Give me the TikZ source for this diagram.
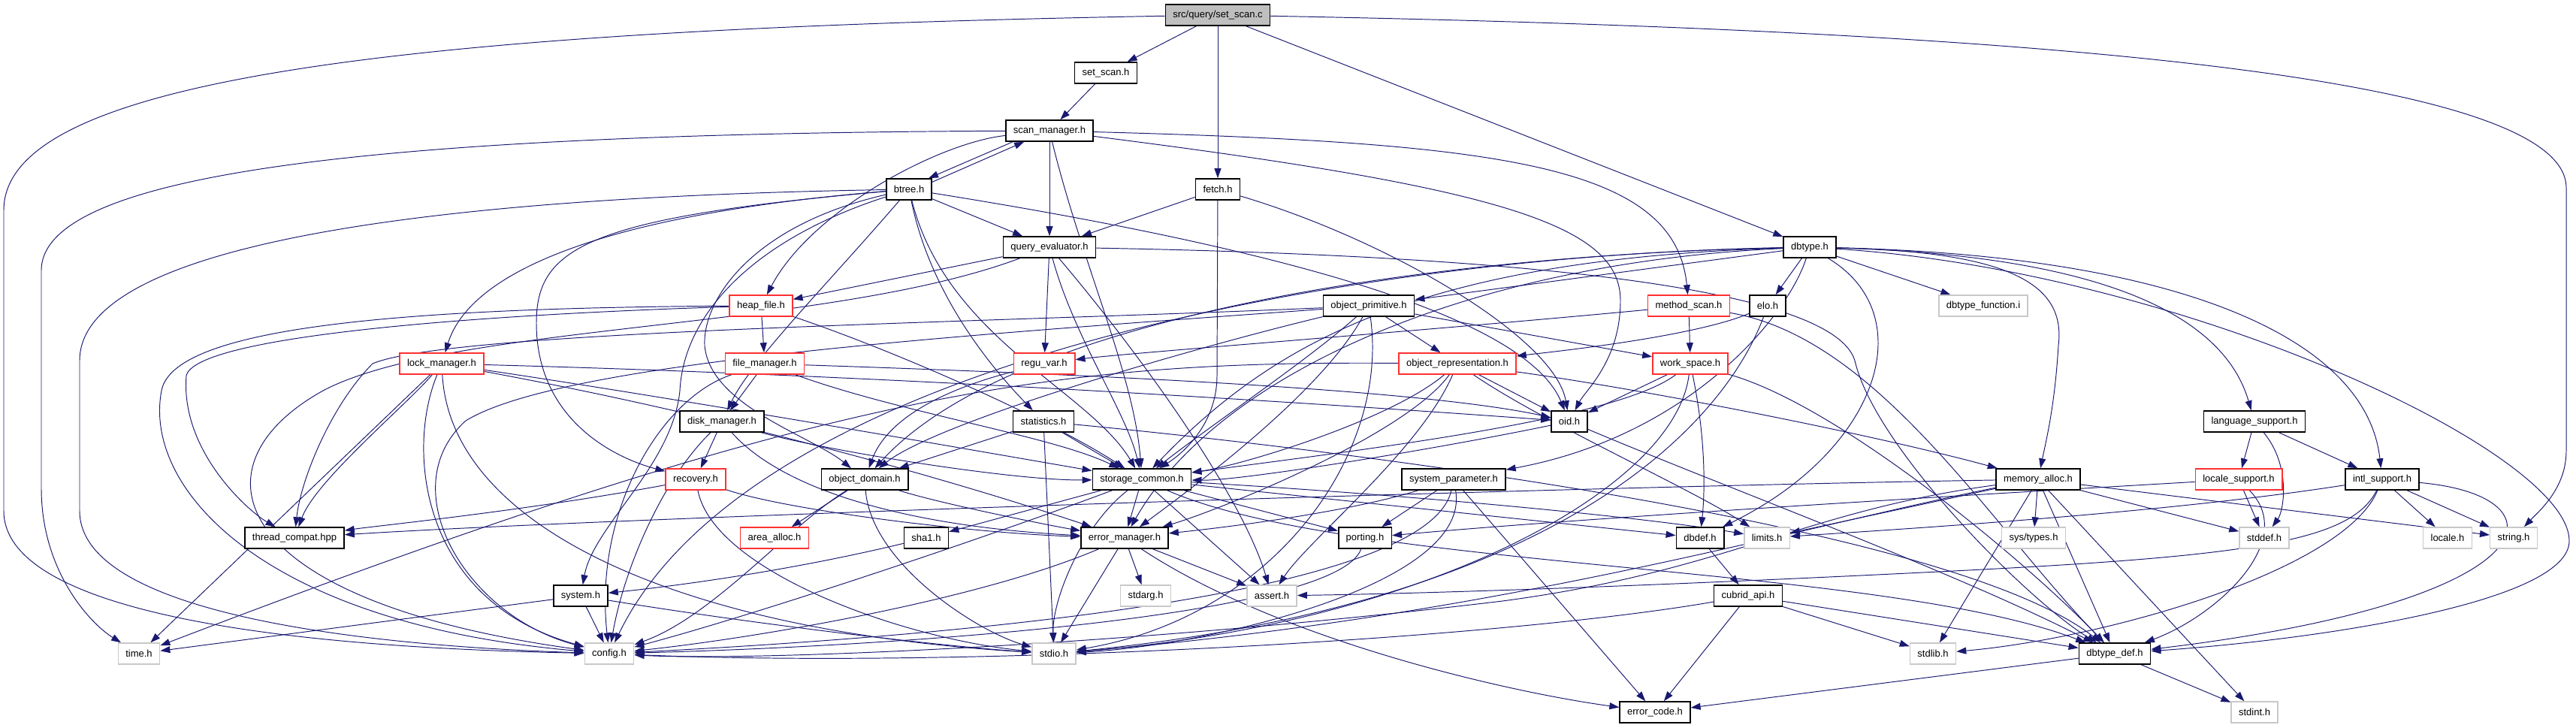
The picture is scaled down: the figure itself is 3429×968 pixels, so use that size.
\documentclass[tikz,border=0pt]{standalone}
\usepackage{fontspec}
\setmainfont{Liberation Sans}
\usetikzlibrary{arrows.meta}

\definecolor{depblue}{HTML}{191970}
\definecolor{rootgray}{HTML}{BFBFBF}
\definecolor{cutred}{HTML}{FF3030}
\definecolor{sysgray}{HTML}{C8C8C8}

\pgfdeclarelayer{edges}
\pgfsetlayers{edges,main}

\tikzset{
    hdr/.style={draw=black, line width=0.9pt, fill=white, minimum height=0.56cm,
        inner xsep=0.2cm, inner ysep=0pt, font=\fontsize{7.4}{8.8}\selectfont},
    rootfile/.style={hdr, fill=rootgray},
    cut/.style={hdr, draw=cutred},
    syshdr/.style={hdr, draw=sysgray, line width=0.8pt},
    dep/.style={depblue, line width=0.55pt, -{Triangle[length=0.26cm, width=0.18cm]}}
}

\begin{document}
\begin{tikzpicture}[x=0.02cm, y=-0.02cm]
    \useasboundingbox (0,0) rectangle (3429,968);

    % row 0 - 2
    \node[rootfile] (root) at (1621,20) {src/query/set\_scan.c};
    \node[hdr] (sscanh) at (1472,97) {set\_scan.h};
    \node[hdr] (scanmgr) at (1397,174) {scan\_manager.h};

    % row 3 - 4
    \node[hdr] (btree) at (1210,252) {btree.h};
    \node[hdr] (fetch) at (1621,252) {fetch.h};
    \node[hdr] (qeval) at (1397,329) {query\_evaluator.h};
    \node[hdr] (dbtype) at (2409,329) {dbtype.h};

    % row 5
    \node[cut] (heapf) at (1013,407) {heap\_file.h};
    \node[hdr] (objprim) at (1822,407) {object\_primitive.h};
    \node[cut] (mscan) at (2248,407) {method\_scan.h};
    \node[hdr] (elo) at (2353,407) {elo.h};
    \node[syshdr] (dbfunc) at (2640,407) {dbtype\_function.i};

    % row 6
    \node[cut] (lockm) at (588,484) {lock\_manager.h};
    \node[cut] (filem) at (1018,484) {file\_manager.h};
    \node[cut] (regu) at (1390,484) {regu\_var.h};
    \node[cut] (objrep) at (1940,484) {object\_representation.h};
    \node[cut] (wspace) at (2250,484) {work\_space.h};

    % row 7
    \node[hdr] (diskm) at (961,561) {disk\_manager.h};
    \node[hdr] (stats) at (1389,561) {statistics.h};
    \node[hdr] (oid) at (2089,561) {oid.h};
    \node[hdr] (langs) at (3001,561) {language\_support.h};

    % row 8
    \node[cut] (recov) at (926,638) {recovery.h};
    \node[hdr] (objdom) at (1151,638) {object\_domain.h};
    \node[hdr] (storc) at (1520,638) {storage\_common.h};
    \node[hdr] (syspar) at (1935,638) {system\_parameter.h};
    \node[hdr] (memal) at (2713,638) {memory\_alloc.h};
    \node[cut] (locs) at (2980,638) {locale\_support.h};
    \node[hdr] (intl) at (3171,638) {intl\_support.h};

    % row 9
    \node[hdr] (thrc) at (392,716) {thread\_compat.hpp};
    \node[cut] (area) at (1031,716) {area\_alloc.h};
    \node[hdr] (sha) at (1233,716) {sha1.h};
    \node[hdr] (errm) at (1497,716) {error\_manager.h};
    \node[hdr] (porting) at (1817,716) {porting.h};
    \node[hdr] (dbdef) at (2263,716) {dbdef.h};
    \node[syshdr] (limits) at (2352,716) {limits.h};
    \node[syshdr] (systypes) at (2707,716) {sys/types.h};
    \node[syshdr] (stddef) at (3014,716) {stddef.h};
    \node[syshdr] (locale) at (3258,716) {locale.h};
    \node[syshdr] (string) at (3346,716) {string.h};

    % row 10 - 12
    \node[hdr] (system) at (773,793) {system.h};
    \node[syshdr] (stdarg) at (1525,793) {stdarg.h};
    \node[syshdr] (assert) at (1693,793) {assert.h};
    \node[hdr] (capi) at (2327,793) {cubrid\_api.h};
    \node[syshdr] (time) at (185,870) {time.h};
    \node[syshdr] (config) at (811,870) {config.h};
    \node[syshdr] (stdio) at (1403,870) {stdio.h};
    \node[syshdr] (stdlib) at (2573,870) {stdlib.h};
    \node[hdr] (dbtdef) at (2815,870) {dbtype\_def.h};
    \node[hdr] (errc) at (2203,948) {error\_code.h};
    \node[syshdr] (stdint) at (3001,948) {stdint.h};

    \begin{pgfonlayer}{edges}
    % set_scan.c
    \draw[dep] (root) -- (sscanh);
    \draw[dep] (root) -- (fetch);
    \draw[dep] (root) -- (dbtype);
    \draw[dep] (root) .. controls (500,40) and (5,110) .. (5,280) -- (5,680) .. controls (5,800) and (300,860) .. (config);
    \draw[dep] (root) .. controls (2700,40) and (3416,100) .. (3416,250) -- (3416,600) .. controls (3416,650) and (3380,680) .. (string);
    \draw[dep] (sscanh) -- (scanmgr);

    % scan_manager.h
    \draw[dep] ([xshift=0.2cm]scanmgr.south west) -- ([xshift=-0.1cm]btree.north east);
    \draw[dep] ([yshift=-0.1cm]btree.north east) -- ([xshift=0.5cm]scanmgr.south west);
    \draw[dep] (scanmgr) -- (qeval);
    \draw[dep] (scanmgr) .. controls (1250,190) and (1080,280) .. (heapf);
    \draw[dep] (scanmgr) .. controls (500,178) and (55,230) .. (55,360) -- (55,650) .. controls (55,760) and (120,830) .. (time);
    \draw[dep] (scanmgr) .. controls (1440,350) and (1510,500) .. (storc);
    \draw[dep] (scanmgr) .. controls (2000,190) and (2230,220) .. (mscan);
    \draw[dep] (scanmgr) .. controls (2000,250) and (2157,300) .. (2157,400) .. controls (2157,480) and (2110,520) .. (oid);

    % btree.h
    \draw[dep] (btree) -- (qeval);
    \draw[dep] (btree) .. controls (1100,380) and (1000,480) .. (diskm);
    \draw[dep] (btree) .. controls (1240,400) and (1330,500) .. (stats);
    \draw[dep] (btree) .. controls (1260,450) and (1450,520) .. (storc);
    \draw[dep] (btree) .. controls (1000,300) and (935,400) .. (938,460) .. controls (945,540) and (1080,580) .. (objdom);
    \draw[dep] (btree) .. controls (750,290) and (620,380) .. (lockm);
    \draw[dep] (btree) .. controls (780,290) and (714,330) .. (714,430) .. controls (714,560) and (820,610) .. (recov);
    \draw[dep] (btree) .. controls (600,262) and (106,320) .. (106,480) -- (106,680) .. controls (106,820) and (500,860) .. (config);
    \draw[dep] (btree) .. controls (1000,320) and (910,420) .. (905,520) .. controls (895,620) and (790,700) .. (system);
    \draw[dep] (btree) .. controls (1700,330) and (2030,420) .. (oid);

    % fetch.h
    \draw[dep] (fetch) -- (qeval);
    \draw[dep] (fetch) -- (1620,500) .. controls (1620,560) and (1580,600) .. (storc);
    \draw[dep] (fetch) .. controls (1850,320) and (2070,450) .. (oid);

    % query_evaluator.h
    \draw[dep] (qeval) -- (heapf);
    \draw[dep] (qeval) -- (regu);
    \draw[dep] (qeval) .. controls (1430,450) and (1500,550) .. (storc);
    \draw[dep] (qeval) .. controls (1500,450) and (1650,650) .. (assert);
    \draw[dep] (qeval) .. controls (1100,440) and (600,430) .. (430,520) .. controls (250,620) and (300,800) .. (config);
    \draw[dep] (qeval) .. controls (2000,340) and (2450,380) .. (2470,484) .. controls (2500,600) and (2700,800) .. (dbtdef);

    % heap_file.h, file_manager.h
    \draw[dep] (heapf) -- (filem);
    \draw[dep] (heapf) .. controls (1200,470) and (1400,560) .. (storc);
    \draw[dep] (heapf) .. controls (500,410) and (230,440) .. (215,520) .. controls (190,650) and (350,830) .. (config);
    \draw[dep] (heapf) .. controls (600,420) and (260,450) .. (248,500) .. controls (240,600) and (330,680) .. (thrc);
    \draw[dep] (filem) -- (diskm);
    \draw[dep] (filem) .. controls (1200,550) and (1400,580) .. (storc);
    \draw[dep] (filem) .. controls (1500,500) and (1900,520) .. (oid);
    \draw[dep] (filem) .. controls (880,530) and (790,680) .. (config);

    % lock_manager.h
    \draw[dep] (lockm) -- (time);
    \draw[dep] (lockm) .. controls (540,540) and (420,640) .. (thrc);
    \draw[dep] (lockm) .. controls (540,600) and (560,800) .. (config);
    \draw[dep] (lockm) .. controls (600,700) and (900,840) .. (stdio);
    \draw[dep] (lockm) .. controls (1000,560) and (1300,650) .. (errm);
    \draw[dep] (lockm) .. controls (900,530) and (1300,600) .. (storc);
    \draw[dep] (lockm) .. controls (1200,500) and (1800,540) .. (oid);

    % disk_manager.h, recovery.h
    \draw[dep] (diskm) -- (recov);
    \draw[dep] (diskm) .. controls (1100,600) and (1350,640) .. (storc);
    \draw[dep] (diskm) .. controls (1040,650) and (1200,700) .. (errm);
    \draw[dep] (diskm) .. controls (880,640) and (830,760) .. (config);
    \draw[dep] (recov) .. controls (700,680) and (500,700) .. (thrc);
    \draw[dep] (recov) .. controls (1050,680) and (1300,710) .. (errm);
    \draw[dep] (recov) .. controls (950,760) and (1200,850) .. (stdio);

    % object_domain.h, statistics.h, regu_var.h
    \draw[dep] (objdom) -- (area);
    \draw[dep] (objdom) .. controls (1250,670) and (1400,700) .. (errm);
    \draw[dep] (objdom) .. controls (1160,750) and (1300,840) .. (stdio);
    \draw[dep] (objdom) .. controls (1050,700) and (950,820) .. (config);
    \draw[dep] (stats) -- (objdom);
    \draw[dep] (stats) -- (storc);
    \draw[dep] (stats) -- (stdio);
    \draw[dep] (stats) .. controls (1800,600) and (2600,700) .. (dbtdef);
    \draw[dep] (regu) .. controls (1250,520) and (1180,560) .. (objdom);

    % object_primitive.h
    \draw[dep] (objprim) -- (objrep);
    \draw[dep] (objprim) -- (wspace);
    \draw[dep] (objprim) .. controls (1600,460) and (1250,560) .. (objdom);
    \draw[dep] (objprim) .. controls (1740,480) and (1620,560) .. (storc);
    \draw[dep] (objprim) .. controls (1760,520) and (1600,640) .. (errm);
    \draw[dep] (objprim) .. controls (1850,600) and (1700,820) .. (stdio);
    \draw[dep] (objprim) .. controls (1300,430) and (600,440) .. (496,484) .. controls (440,540) and (400,640) .. (thrc);
    \draw[dep] (objprim) .. controls (1300,445) and (750,480) .. (620,560) .. controls (520,650) and (620,820) .. (config);

    % method_scan.h, elo.h
    \draw[dep] (mscan) .. controls (1900,440) and (1500,470) .. (regu);
    \draw[dep] (mscan) -- (wspace);
    \draw[dep] (mscan) .. controls (2500,450) and (2650,700) .. (dbtdef);
    \draw[dep] (elo) .. controls (2250,450) and (2050,470) .. (objrep);
    \draw[dep] (elo) .. controls (2300,550) and (2100,800) .. (stdio);

    % object_representation.h
    \draw[dep] (objrep) -- (oid);
    \draw[dep] (objrep) .. controls (1850,560) and (1650,620) .. (storc);
    \draw[dep] (objrep) .. controls (1870,580) and (1620,680) .. (errm);
    \draw[dep] (objrep) .. controls (2200,520) and (2500,580) .. (memal);
    \draw[dep] (objrep) .. controls (2050,560) and (2250,650) .. (limits);
    \draw[dep] (objrep) .. controls (1890,600) and (1740,720) .. (assert);
    \draw[dep] (objrep) .. controls (1400,480) and (1100,520) .. (time);

    % work_space.h
    \draw[dep] (wspace) -- (oid);
    \draw[dep] (wspace) .. controls (2150,560) and (1800,600) .. (storc);
    \draw[dep] (wspace) .. controls (2270,580) and (2270,650) .. (dbdef);
    \draw[dep] (wspace) .. controls (2450,540) and (2700,750) .. (dbtdef);
    \draw[dep] (wspace) .. controls (2230,650) and (1900,830) .. (stdio);

    % dbtype.h
    \draw[dep] (dbtype) -- (objprim);
    \draw[dep] (dbtype) -- (elo);
    \draw[dep] (dbtype) -- (dbfunc);
    \draw[dep] (dbtype) .. controls (2380,420) and (2250,580) .. (syspar);
    \draw[dep] (dbtype) .. controls (2560,420) and (2500,600) .. (dbdef);
    \draw[dep] (dbtype) .. controls (2680,335) and (2750,380) .. (2740,460) .. controls (2735,540) and (2725,580) .. (memal);
    \draw[dep] (dbtype) .. controls (2800,340) and (2960,420) .. (langs);
    \draw[dep] (dbtype) .. controls (2900,340) and (3150,450) .. (intl);
    \draw[dep] (dbtype) .. controls (2900,360) and (3420,600) .. (3420,720) .. controls (3420,800) and (3100,850) .. (dbtdef);
    \draw[dep] (dbtype) .. controls (1900,340) and (1350,420) .. (objdom);
    \draw[dep] (dbtype) .. controls (1900,345) and (1700,450) .. (storc);
    \draw[dep] (dbtype) .. controls (1950,350) and (1620,500) .. (errm);
    \draw[dep] (dbtype) .. controls (1800,340) and (1000,480) .. (config);

    % system_parameter.h, oid.h
    \draw[dep] (syspar) -- (porting);
    \draw[dep] (syspar) .. controls (1800,680) and (1650,700) .. (errm);
    \draw[dep] (syspar) -- (errc);
    \draw[dep] (syspar) .. controls (1900,800) and (1200,850) .. (config);
    \draw[dep] (syspar) .. controls (1960,780) and (1600,860) .. (stdio);
    \draw[dep] (oid) .. controls (1900,600) and (1650,640) .. (storc);
    \draw[dep] (oid) .. controls (2300,650) and (2600,760) .. (dbtdef);

    % storage_common.h
    \draw[dep] (storc) -- (errm);
    \draw[dep] (storc) -- (sha);
    \draw[dep] (storc) -- (assert);
    \draw[dep] (storc) -- (porting);
    \draw[dep] (storc) -- (dbdef);
    \draw[dep] (storc) .. controls (1900,660) and (2200,690) .. (limits);
    \draw[dep] (storc) .. controls (1440,700) and (1400,800) .. (stdio);
    \draw[dep] (storc) .. controls (1300,720) and (1000,820) .. (config);
    \draw[dep] (storc) .. controls (1800,760) and (2500,750) .. (dbtdef);

    % error_manager.h, sha1.h, system.h, porting.h
    \draw[dep] (errm) -- (stdarg);
    \draw[dep] (errm) -- (assert);
    \draw[dep] (errm) -- (stdio);
    \draw[dep] (errm) .. controls (1700,850) and (2000,920) .. (errc);
    \draw[dep] (errm) .. controls (1300,800) and (1000,850) .. (config);
    \draw[dep] (sha) .. controls (1050,760) and (900,780) .. (system);
    \draw[dep] (system) -- (config);
    \draw[dep] (system) -- (time);
    \draw[dep] (system) .. controls (1000,830) and (1250,860) .. (stdio);
    \draw[dep] (porting) .. controls (1780,820) and (1200,860) .. (config);

    % dbdef.h, cubrid_api.h
    \draw[dep] (dbdef) -- (capi);
    \draw[dep] (capi) -- (stdlib);
    \draw[dep] (capi) -- (dbtdef);
    \draw[dep] (capi) -- (errc);
    \draw[dep] (capi) .. controls (2000,850) and (1300,890) .. (config);

    % memory_alloc.h
    \draw[dep] (memal) .. controls (2000,650) and (800,690) .. (thrc);
    \draw[dep] (memal) .. controls (2400,680) and (2300,760) .. (2000,800) .. controls (1500,860) and (1000,880) .. (config);
    \draw[dep] (memal) .. controls (2400,700) and (2000,820) .. (stdio);
    \draw[dep] (memal) -- (limits);
    \draw[dep] (memal) -- (systypes);
    \draw[dep] (memal) -- (stddef);
    \draw[dep] (memal) -- (string);
    \draw[dep] (memal) -- (stdlib);
    \draw[dep] (memal) -- (dbtdef);
    \draw[dep] (memal) -- (stdint);

    % language_support.h, locale_support.h, intl_support.h
    \draw[dep] (langs) -- (locs);
    \draw[dep] (langs) .. controls (3050,620) and (3040,680) .. (stddef);
    \draw[dep] (langs) -- (intl);
    \draw[dep] (locs) -- (stddef);
    \draw[dep] (locs) .. controls (3060,720) and (2950,820) .. (dbtdef);
    \draw[dep] (locs) .. controls (2600,660) and (2100,690) .. (porting);
    \draw[dep] (intl) -- (locale);
    \draw[dep] (intl) -- (string);
    \draw[dep] (intl) .. controls (3420,660) and (3400,800) .. (dbtdef);
    \draw[dep] (intl) .. controls (2900,680) and (2600,700) .. (limits);
    \draw[dep] (intl) .. controls (3130,720) and (3000,740) .. (2600,760) .. controls (2200,780) and (1900,790) .. (assert);
    \draw[dep] (intl) .. controls (3120,760) and (2800,850) .. (stdlib);

    % dbtype_def.h
    \draw[dep] (dbtdef) -- (errc);
    \draw[dep] (dbtdef) -- (stdint);
    \end{pgfonlayer}
\end{tikzpicture}
\end{document}
